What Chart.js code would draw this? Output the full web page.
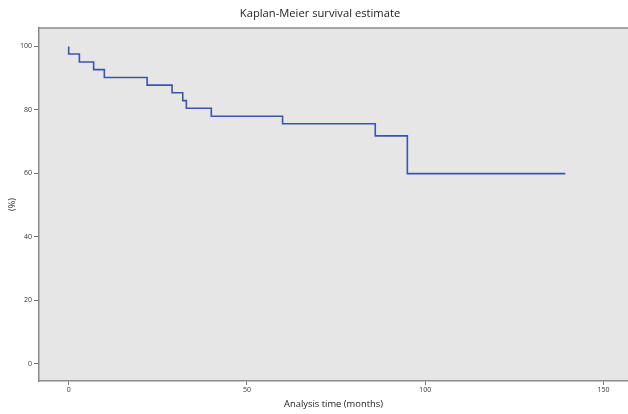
<!DOCTYPE html>
<html>
<head>
<meta charset="utf-8">
<script src="https://cdn.jsdelivr.net/npm/chart.js@4.4.1/dist/chart.umd.min.js"></script>
<style>
html,body{margin:0;padding:0;background:#fff;}
#wrap{width:628px;height:414px;}
</style>
</head>
<body>
<div id="wrap"><canvas id="c" width="628" height="414"></canvas></div>
<script>
const times    = [0, 0, 3, 7, 10, 22, 29, 32, 33, 40, 60, 86, 95, 139.3];
const survival = [100, 97.6, 95.1, 92.7, 90.2, 87.8, 85.4, 82.9, 80.5, 78.0, 75.6, 71.8, 59.9, 59.9];
const xTicks = [0, 50, 100, 150];
const yTicks = [0, 20, 40, 60, 80, 100];

const points = times.map((t, i) => ({x: t, y: survival[i]}));

const bgPlugin = {
  id: 'bgPlugin',
  beforeDraw(chart) {
    const a = chart.chartArea, ctx = chart.ctx;
    ctx.save();
    ctx.fillStyle = '#e6e6e6';
    ctx.fillRect(a.left, a.top, a.right - a.left, a.bottom - a.top);
    ctx.strokeStyle = '#8a8a8a';
    ctx.lineWidth = 1.5;
    ctx.beginPath();
    ctx.moveTo(a.left, a.top);
    ctx.lineTo(a.right, a.top);
    ctx.stroke();
    ctx.restore();
  }
};

new Chart(document.getElementById('c'), {
  type: 'line',
  data: {
    datasets: [{
      data: points,
      stepped: 'before',
      borderColor: '#3c55a9',
      borderWidth: 1.6,
      pointRadius: 0,
      fill: false
    }]
  },
  options: {
    responsive: false,
    animation: false,
    layout: {padding: {left: 12, right: 0, top: 0, bottom: 3}},
    plugins: {
      legend: {display: false},
      tooltip: {enabled: false},
      title: {
        display: true,
        text: 'Kaplan-Meier survival estimate',
        color: '#222',
        font: {family: 'Open Sans', size: 11.2, weight: 'normal'},
        padding: {top: 7.5, bottom: 7.1}
      }
    },
    scales: {
      x: {
        type: 'linear',
        min: -8.33,
        max: 156.9,
        afterBuildTicks: s => { s.ticks = xTicks.map(v => ({value: v})); },
        afterFit: s => { s.height = 30; },
        grid: {drawOnChartArea: false, drawTicks: true, tickLength: 4, color: '#777', lineWidth: 1},
        border: {display: true, color: '#8a8a8a', width: 1.5},
        ticks: {color: '#333', font: {family: 'Open Sans', size: 7}, padding: 1, maxRotation: 0},
        title: {display: true, text: 'Analysis time (months)', color: '#222',
                font: {family: 'Open Sans', size: 9.4}, padding: {top: 0, bottom: 1}}
      },
      y: {
        type: 'linear',
        min: -5.5,
        max: 105.8,
        afterBuildTicks: s => { s.ticks = yTicks.map(v => ({value: v})); },
        afterFit: s => { s.width = 27; },
        grid: {drawOnChartArea: false, drawTicks: true, tickLength: 5, color: '#777', lineWidth: 1},
        border: {display: true, color: '#8a8a8a', width: 1.5},
        ticks: {color: '#333', font: {family: 'Open Sans', size: 7}, padding: 2},
        title: {display: true, text: '(%)', color: '#222',
                font: {family: 'Open Sans', size: 9}, padding: {top: -5, bottom: 0}}
      }
    }
  },
  plugins: [bgPlugin]
});
</script>
</body>
</html>
